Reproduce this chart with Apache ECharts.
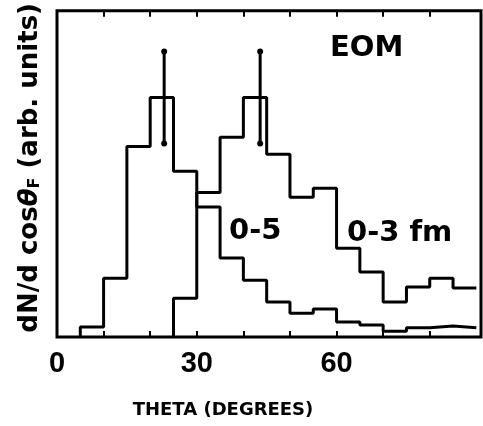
<!DOCTYPE html>
<html>
<head>
<meta charset="utf-8">
<script src="https://cdn.jsdelivr.net/npm/echarts@6/dist/echarts.min.js"></script>
<style>
  body { margin: 0; background: #fff; }
  #main { width: 483px; height: 426px; }
</style>
</head>
<body>
<div id="main"></div>
<script>
  // bin left edges (degrees), last entry closes the histogram
  var binEdges = [5, 10, 15, 20, 25, 30, 35, 40, 45, 50, 55, 60, 65, 70, 75, 80, 85, 90];
  // 0-5 fm histogram (one value per bin)
  var hist05 = [3.1, 18.0, 58.4, 73.4, 50.8, 39.8, 24.2, 17.4, 10.7, 7.3, 8.6, 4.6, 3.7, 1.8, 2.8, 3.4, 2.8];
  // 0-3 fm histogram starts at 25 deg
  var binEdges03 = [25, 30, 35, 40, 45, 50, 55, 60, 65, 70, 75, 80, 85, 90];
  var hist03 = [11.9, 44.3, 61.2, 73.4, 56.0, 42.8, 45.6, 27.2, 19.9, 10.7, 15.3, 18.0, 15.0];
  // error bars: [theta, low, high]
  var errBars = [[23, 59.3, 87.5], [43.6, 59.3, 87.5]];
  var xTickLabels = [0, 30, 60];
  var xTicks = [10, 20, 30, 40, 50, 60, 70, 80];

  function stepData(edges, vals) {
    var out = [[edges[0], 0]];
    for (var i = 0; i < vals.length; i++) {
      out.push([edges[i], vals[i]]);
    }
    out.push([edges[edges.length - 1], vals[vals.length - 1]]);
    return out;
  }

  var myChart = echarts.init(document.getElementById('main'));
  var font = 'DejaVu Sans';

  var option = {
    backgroundColor: '#fff',
    animation: false,
    grid: {
      left: 57, right: 2, top: 10, bottom: 89,
      show: true, borderColor: '#000', borderWidth: 3
    },
    xAxis: [{
      type: 'value', min: 0, max: 91,
      name: 'THETA (DEGREES)', nameLocation: 'middle', nameGap: 64,
      nameTextStyle: { fontFamily: font, fontWeight: 'bold', fontSize: 18, color: '#000', padding: [0, 92, 0, 0] },
      axisLine: { show: false },
      splitLine: { show: false },
      axisTick: { show: true, inside: true, length: 6, customValues: xTicks, lineStyle: { color: '#000', width: 2 } },
      axisLabel: { customValues: xTickLabels, margin: 12, fontFamily: 'Liberation Sans', fontWeight: 'bold', fontSize: 29, color: '#000' }
    }, {
      type: 'value', min: 0, max: 91, position: 'top',
      axisLine: { show: false },
      splitLine: { show: false },
      axisTick: { show: true, inside: true, length: 6, customValues: xTicks, lineStyle: { color: '#000', width: 2 } },
      axisLabel: { show: false }
    }],
    yAxis: {
      type: 'value', min: 0, max: 100,
      name: 'dN/d cos{th|θ}{sub|F} (arb. units)', nameLocation: 'middle', nameGap: 14, nameRotate: 90,
      nameTextStyle: {
        fontFamily: font, fontWeight: 'bold', fontSize: 26, color: '#000', padding: [0, 0, 0, 12],
        rich: {
          th: { fontFamily: font, fontWeight: 'bold', fontSize: 26, fontStyle: 'italic', color: '#000' },
          sub: { fontFamily: font, fontWeight: 'bold', fontSize: 16, color: '#000', verticalAlign: 'bottom', padding: [10, 0, 0, 0] }
        }
      },
      axisLine: { show: false },
      axisTick: { show: false },
      axisLabel: { show: false },
      splitLine: { show: false }
    },
    series: [{
      name: '0-5',
      type: 'line', step: 'end', symbol: 'none',
      lineStyle: { color: '#000', width: 3 },
      data: stepData(binEdges, hist05)
    }, {
      name: '0-3 fm',
      type: 'line', step: 'end', symbol: 'none',
      lineStyle: { color: '#000', width: 3 },
      data: stepData(binEdges03, hist03)
    }, {
      name: 'err',
      type: 'custom',
      data: errBars,
      renderItem: function (params, api) {
        var x = api.value(0);
        var lo = api.coord([x, api.value(1)]);
        var hi = api.coord([x, api.value(2)]);
        return {
          type: 'group',
          children: [
            { type: 'line', shape: { x1: lo[0], y1: lo[1], x2: hi[0], y2: hi[1] }, style: { stroke: '#000', lineWidth: 3 } },
            { type: 'circle', shape: { cx: lo[0], cy: lo[1], r: 3 }, style: { fill: '#000' } },
            { type: 'circle', shape: { cx: hi[0], cy: hi[1], r: 3 }, style: { fill: '#000' } }
          ]
        };
      }
    }],
    graphic: [
      { type: 'text', left: 330, top: 34, style: { text: 'EOM', font: 'bold 29px "DejaVu Sans"', fill: '#000' } },
      { type: 'text', left: 229, top: 217, style: { text: '0-5', font: 'bold 29px "DejaVu Sans"', fill: '#000' } },
      { type: 'text', left: 347, top: 219, style: { text: '0-3 fm', font: 'bold 29px "DejaVu Sans"', fill: '#000' } }
    ]
  };

  myChart.setOption(option);
</script>
</body>
</html>
